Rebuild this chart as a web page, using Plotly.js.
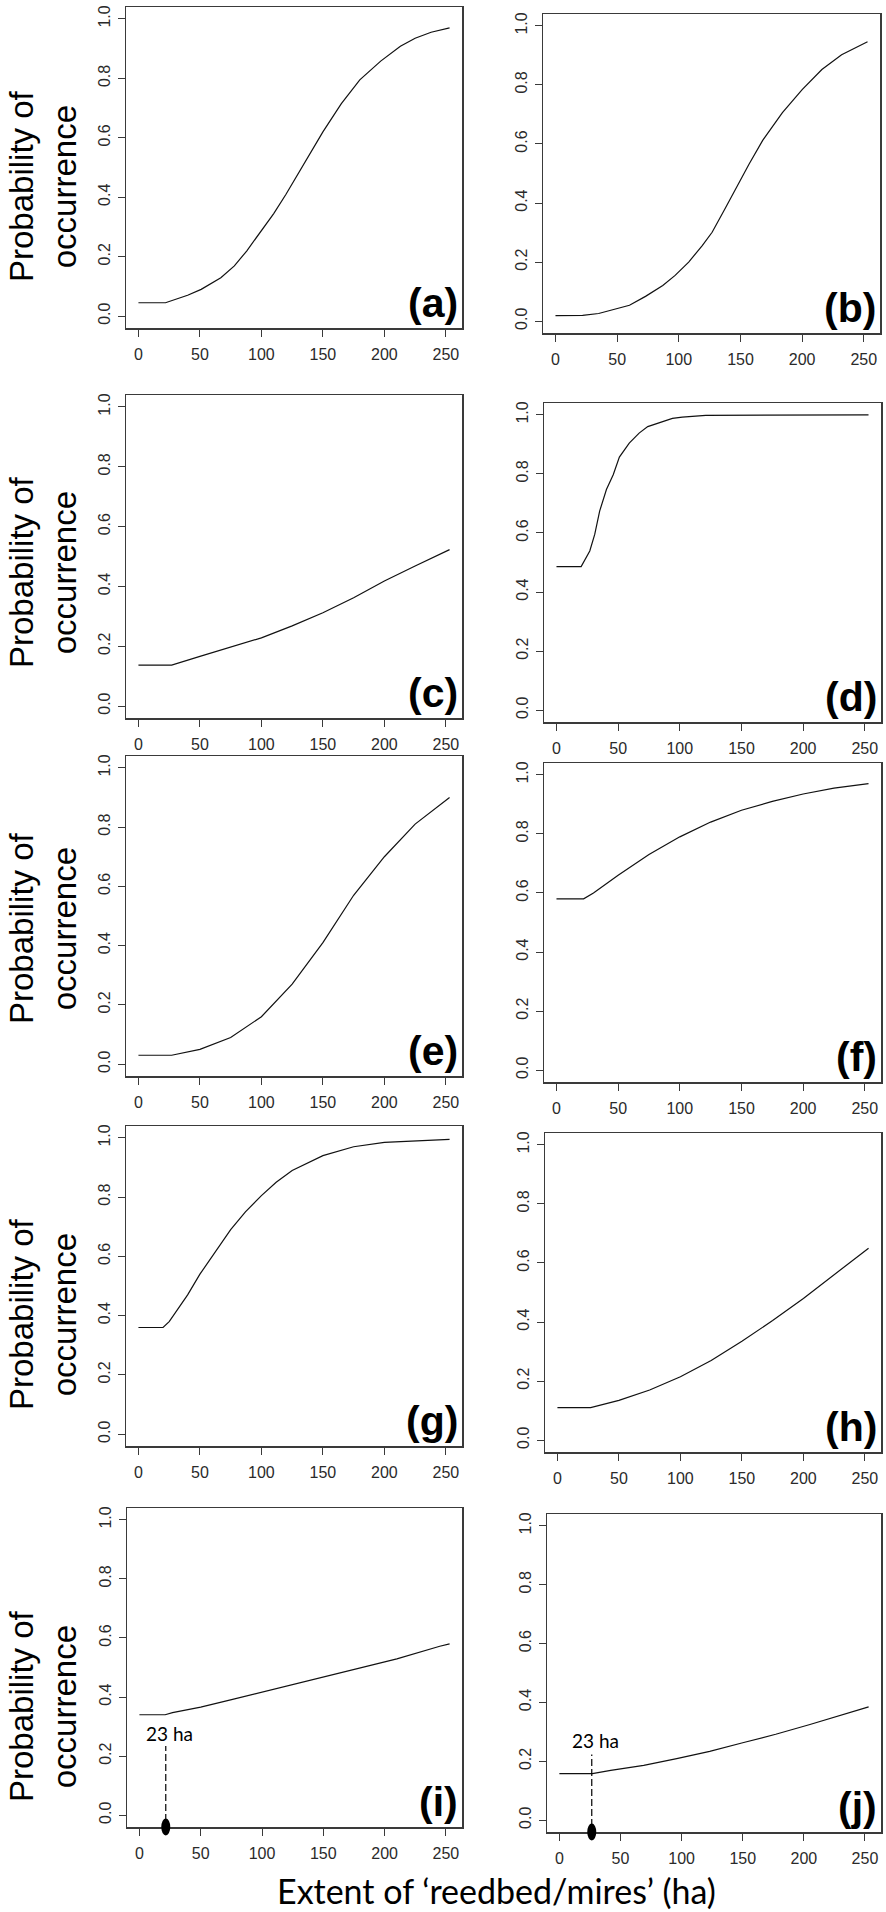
<!DOCTYPE html>
<html><head><meta charset="utf-8">
<script src="https://cdn.plot.ly/plotly-3.0.1.min.js"></script>
<style>html,body{margin:0;padding:0;background:#fff}</style>
</head><body><div id="chart" style="width:886px;height:1912px"></div>
<script>
// ---------- data ----------
const xTicks = [0, 50, 100, 150, 200, 250];
const yTicks = [0, 0.2, 0.4, 0.6, 0.8, 1.0];
const panelLabels = ['(a)','(b)','(c)','(d)','(e)','(f)','(g)','(h)','(i)','(j)'];

const xA = [0, 22, 40, 51, 67, 78, 88, 99, 110, 120, 130, 140, 150, 165, 180, 197, 213, 225, 238, 253];
const yA = [0.045, 0.045, 0.070, 0.090, 0.129, 0.169, 0.219, 0.281, 0.345, 0.410, 0.480, 0.550, 0.620, 0.715, 0.795, 0.858, 0.908, 0.935, 0.955, 0.970];

const xB = [0, 22, 35, 50, 60, 73, 87, 97, 108, 119, 127, 138, 146, 157, 168, 184, 200, 216, 232, 253];
const yB = [0.019, 0.020, 0.026, 0.043, 0.054, 0.084, 0.121, 0.155, 0.200, 0.256, 0.301, 0.385, 0.447, 0.532, 0.612, 0.706, 0.784, 0.852, 0.902, 0.946];

const xC = [0, 27, 50, 75, 100, 125, 150, 175, 200, 225, 253];
const yC = [0.137, 0.137, 0.166, 0.196, 0.228, 0.268, 0.312, 0.362, 0.418, 0.468, 0.523];

const xD = [0, 20, 27, 31, 35, 40.5, 46, 51, 59, 67, 74, 84, 94, 102, 121, 253];
const yD = [0.486, 0.486, 0.539, 0.595, 0.674, 0.747, 0.797, 0.857, 0.904, 0.938, 0.960, 0.973, 0.988, 0.992, 0.998, 1.0];

const xE = [0, 27, 50, 75, 100, 125, 150, 175, 200, 225, 253];
const yE = [0.03, 0.03, 0.05, 0.09, 0.16, 0.27, 0.41, 0.57, 0.70, 0.81, 0.90];

const xF = [0, 22, 30, 50, 75, 100, 125, 150, 175, 200, 225, 253];
const yF = [0.58, 0.58, 0.60, 0.66, 0.73, 0.79, 0.84, 0.88, 0.91, 0.935, 0.955, 0.97];

const xG = [0, 20, 25, 30, 40, 50, 62, 75, 87, 100, 112, 125, 150, 175, 200, 225, 253];
const yG = [0.36, 0.36, 0.38, 0.41, 0.47, 0.54, 0.61, 0.69, 0.75, 0.805, 0.85, 0.89, 0.94, 0.97, 0.985, 0.99, 0.995];

const xH = [0, 27, 50, 75, 100, 125, 150, 175, 200, 225, 253];
const yH = [0.11, 0.11, 0.135, 0.17, 0.215, 0.27, 0.335, 0.405, 0.48, 0.56, 0.65];

const xI = [0, 21, 27, 50, 76, 103, 130, 157, 183, 210, 245, 253];
const yI = [0.34, 0.34, 0.347, 0.366, 0.392, 0.42, 0.446, 0.476, 0.501, 0.529, 0.572, 0.58];

const xJ = [0, 27, 42, 69, 96, 123, 150, 177, 205, 232, 253];
const yJ = [0.158, 0.158, 0.169, 0.186, 0.209, 0.234, 0.263, 0.292, 0.325, 0.359, 0.385];

const seriesX = [xA, xB, xC, xD, xE, xF, xG, xH, xI, xJ];
const seriesY = [yA, yB, yC, yD, yE, yF, yG, yH, yI, yJ];

// 23 ha threshold marks (as drawn on panels i and j)
const markLabel = '23 ha';
const markXi = 21.5, markXj = 26.5;

const yTitle = 'Probability of<br>occurrence';
const xTitle = 'Extent of \u2018reedbed/mires\u2019 (ha)';

// ---------- layout geometry (pixels) ----------
const W = 886, H = 1912;
const boxes = [
  {l:126, r:462, t:7,    b:328},
  {l:543, r:880, t:14,   b:333},
  {l:126, r:462, t:395,  b:718},
  {l:544, r:881, t:403,  b:722},
  {l:126, r:462, t:756,  b:1076},
  {l:544, r:881, t:763,  b:1082},
  {l:126, r:462, t:1126, b:1446},
  {l:545, r:881, t:1133, b:1452},
  {l:127, r:462, t:1508, b:1827},
  {l:547, r:881, t:1514, b:1832}
];
const yTitleCenters = [186, 572, 928, 1314, 1706];

const axisFont = {family:'Liberation Sans, Arial, sans-serif', size:16, color:'#2a2a2a'};
const lineCol = '#3a3a3a';

const traces = [];
const layout = {
  width: W, height: H,
  margin: {l:0, r:0, t:0, b:0},
  paper_bgcolor: '#fff', plot_bgcolor: '#fff',
  showlegend: false,
  annotations: [], shapes: []
};

for (let k = 0; k < 10; k++) {
  const s = k === 0 ? '' : String(k + 1);
  const bx = boxes[k];
  traces.push({
    x: seriesX[k], y: seriesY[k], type: 'scatter', mode: 'lines',
    xaxis: 'x' + s, yaxis: 'y' + s,
    line: {color: '#111', width: 1.2}, hoverinfo: 'skip'
  });
  layout['xaxis' + s] = {
    domain: [bx.l / W, bx.r / W], anchor: 'y' + s,
    range: [-10.12, 263.12], tickvals: xTicks, ticks: 'outside', ticklen: 7,
    tickwidth: 1, tickcolor: lineCol, showline: true, mirror: true,
    linecolor: lineCol, linewidth: 1.5, showgrid: false, zeroline: false,
    tickfont: axisFont, ticklabelstandoff: 4, fixedrange: true
  };
  layout['yaxis' + s] = {
    domain: [1 - bx.b / H, 1 - bx.t / H], anchor: 'x' + s,
    range: [-0.04, 1.04], tickvals: yTicks, tickformat: '.1f', tickangle: -90,
    ticks: 'outside', ticklen: 7, tickwidth: 1, tickcolor: lineCol,
    showline: true, mirror: true, linecolor: lineCol, linewidth: 1.5,
    showgrid: false, zeroline: false, tickfont: axisFont, ticklabelstandoff: 1,
    fixedrange: true
  };
  layout.annotations.push({
    text: panelLabels[k], xref: 'x' + s + ' domain', yref: 'y' + s + ' domain',
    x: 1, y: 0, xanchor: 'right', yanchor: 'bottom', xshift: -2, yshift: 0,
    showarrow: false,
    font: {family:'Liberation Sans, Arial, sans-serif', size: 41, color: '#000', weight: 'bold'}
  });
}

for (const cy of yTitleCenters) {
  layout.annotations.push({
    text: yTitle, xref: 'paper', yref: 'paper', x: 43 / W, y: 1 - cy / H,
    xanchor: 'center', yanchor: 'middle', textangle: -90, showarrow: false,
    font: {family:'Liberation Sans, Arial, sans-serif', size: 33, color: '#000'}
  });
}

layout.annotations.push({
  text: xTitle, xref: 'paper', yref: 'paper', x: 496 / W, y: 1 - 1890 / H,
  xanchor: 'center', yanchor: 'middle', showarrow: false,
  font: {family:'Lato, sans-serif', size: 34, color: '#000'}
});

// threshold marks on panels (i) and (j)
const marks = [
  {s:'9', mx: markXi, top: 0.234, tx: 24.8, ty: 0.276},
  {s:'10', mx: markXj, top: 0.223, tx: 29.6, ty: 0.271}
];
for (const m of marks) {
  layout.shapes.push({
    type: 'line', xref: 'x' + m.s, yref: 'y' + m.s,
    x0: m.mx, x1: m.mx, y0: -0.02, y1: m.top,
    line: {color: '#000', width: 1.2, dash: '7px,3px'}
  });
  layout.shapes.push({
    type: 'circle', xref: 'x' + m.s, yref: 'y' + m.s + ' domain',
    xsizemode: 'pixel', ysizemode: 'pixel', xanchor: m.mx, yanchor: 0,
    x0: -4.5, x1: 4.5, y0: -8.5, y1: 8.5,
    fillcolor: '#000', line: {width: 0}
  });
  layout.annotations.push({
    text: markLabel, xref: 'x' + m.s, yref: 'y' + m.s, x: m.tx, y: m.ty,
    xanchor: 'center', yanchor: 'middle', showarrow: false,
    font: {family:'Lato, sans-serif', size: 19, color: '#000'}
  });
}

Plotly.newPlot('chart', traces, layout, {displayModeBar: false, staticPlot: true});
</script>
</body></html>
